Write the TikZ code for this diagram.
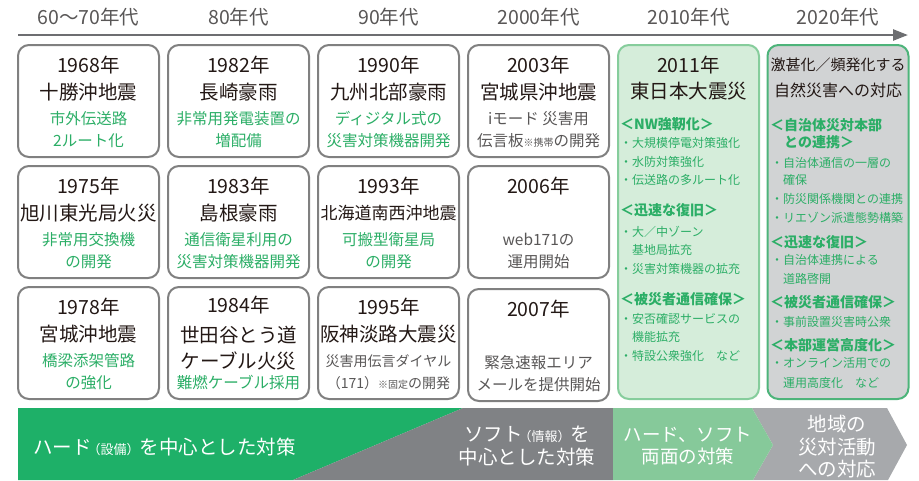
\documentclass[tikz,border=0pt]{standalone}
\usepackage{fontspec}
\setmainfont{Noto Sans CJK JP}
\usetikzlibrary{arrows.meta}
\definecolor{hdr}{HTML}{595757}
\definecolor{axisc}{HTML}{6D6E71}
\definecolor{boxgray}{HTML}{808080}
\definecolor{ink}{HTML}{231815}
\definecolor{subgray}{HTML}{595757}
\definecolor{gtxt}{HTML}{2BAE66}
\definecolor{gbox}{HTML}{D5EDDA}
\definecolor{gboxline}{HTML}{86CD9C}
\definecolor{graybox}{HTML}{D1D3D4}
\definecolor{grayboxline}{HTML}{4DB47A}
\definecolor{bandgreen}{HTML}{1EB068}
\definecolor{banddark}{HTML}{808285}
\definecolor{bandlight}{HTML}{86C99A}
\definecolor{bandgray}{HTML}{A7A9AC}
\newcommand\mkcell[8]{%
  \node[cellbox] (#1) at (#2,#3) {};
  \node[bigtxt] (#1y) at (#2,#3-36) {#4};
  \node[bigtxt] (#1t) at (#2,#3-9) {#5};
  \node[subtxt,text=#8] (#1s) at (#2,#3+18) {#6};
  \node[subtxt,text=#8] (#1u) at (#2,#3+40) {#7};
}
\newcommand\smallfs{\fontsize{10}{12}\selectfont}
\newcommand\parsmall[1]{{\fontsize{13}{14}\selectfont\kern-4pt（#1）}}
\begin{document}
\begin{tikzpicture}[x=1pt,y=-1pt,
  cellbox/.style={draw=boxgray, line width=2pt, rounded corners=11pt, fill=white,
    minimum width=141pt, minimum height=112pt, inner sep=0pt, outer sep=0pt},
  bigbox/.style={line width=2pt, rounded corners=11pt,
    minimum width=141pt, minimum height=354pt, inner sep=0pt, outer sep=0pt},
  bigtxt/.style={text=ink, font=\fontsize{19.5}{22}\selectfont, inner sep=0pt},
  subtxt/.style={font=\fontsize{15.5}{18}\selectfont, inner sep=0pt},
  hdrtxt/.style={text=hdr, font=\fontsize{19.5}{22}\selectfont, inner sep=0pt},
  hd/.style={text=gtxt, font=\fontsize{14}{16}\selectfont\bfseries, inner sep=0pt, anchor=west},
  bl/.style={text=gtxt, font=\fontsize{12}{14}\selectfont, inner sep=0pt, anchor=west},
  bandtxt/.style={text=white, font=\fontsize{19.5}{22.5}\selectfont, inner sep=0pt, align=center},
]
\useasboundingbox (0,0) rectangle (919,480);
\fill[white] (0,0) rectangle (919,480);

% header
\node[hdrtxt] (h1) at (88.5,17) {60～70年代};
\node[hdrtxt] (h2) at (238.5,17) {80年代};
\node[hdrtxt] (h3) at (388.5,17) {90年代};
\node[hdrtxt] (h4) at (538.5,17) {2000年代};
\node[hdrtxt] (h5) at (688.5,17) {2010年代};
\node[hdrtxt] (h6) at (838,17) {2020年代};
\coordinate (ax0) at (18,35);
\coordinate (ax1) at (908,35);
\draw[axisc, line width=2.5pt, -{Triangle[length=15pt,width=11pt]}] (ax0) -- (ax1);

% column 1
\mkcell{c11}{88.5}{101}{1968年}{十勝沖地震}{市外伝送路}{2ルート化}{gtxt}
\mkcell{c12}{88.5}{222}{1975年}{旭川東光局火災}{非常用交換機}{の開発}{gtxt}
\mkcell{c13}{88.5}{343}{1978年}{宮城沖地震}{橋梁添架管路}{の強化}{gtxt}
% column 2
\mkcell{c21}{238.5}{101}{1982年}{長崎豪雨}{非常用発電装置の}{増配備}{gtxt}
\mkcell{c22}{238.5}{222}{1983年}{島根豪雨}{通信衛星利用の}{災害対策機器開発}{gtxt}
\node[cellbox] (c23) at (238.5,343) {};
\node[bigtxt] (c23y) at (238.5,305) {1984年};
\node[bigtxt] (c23t) at (238.5,335) {世田谷とう道};
\node[bigtxt] (c23v) at (238.5,361) {ケーブル火災};
\node[subtxt,text=gtxt] (c23s) at (238.5,383) {難燃ケーブル採用};
% column 3
\mkcell{c31}{388.5}{101}{1990年}{九州北部豪雨}{ディジタル式の}{災害対策機器開発}{gtxt}
\mkcell{c32}{388.5}{222}{1993年}{{\fontsize{17}{20}\selectfont 北海道南西沖地震}}{可搬型衛星局}{の開発}{gtxt}
\mkcell{c33}{388.5}{343}{1995年}{阪神淡路大震災}{{\fontsize{14}{16}\selectfont 災害用伝言ダイヤル}}{{\fontsize{14}{16}\selectfont （171）{\smallfs ※固定}の開発}}{subgray}
% column 4
\mkcell{c41}{538.5}{101}{2003年}{宮城県沖地震}{iモード 災害用}{伝言板{\smallfs ※携帯}の開発}{subgray}
\mkcell{c42}{538.5}{222}{2006年}{}{web171の}{運用開始}{subgray}
\mkcell{c43}{538.5}{345}{2007年}{}{緊急速報エリア}{メールを提供開始}{subgray}

% column 5 (2011)
\node[bigbox, fill=gbox, draw=gboxline] (c5) at (688.5,222) {};
\node[bigtxt] (c5y) at (688.5,65) {2011年};
\node[bigtxt] (c5t) at (688.5,91) {東日本大震災};
\node[hd] (c5h1) at (620,124) {＜NW強靭化＞};
\node[bl] (c5a) at (620,143) {・大規模停電対策強化};
\node[bl] (c5b) at (620,162) {・水防対策強化};
\node[bl] (c5c) at (620,180) {・伝送路の多ルート化};
\node[hd] (c5h2) at (620,210) {＜迅速な復旧＞};
\node[bl] (c5d) at (620,232) {・大／中ゾーン};
\node[bl] (c5e) at (632,250) {基地局拡充};
\node[bl] (c5f) at (620,269) {・災害対策機器の拡充};
\node[hd] (c5h3) at (620,299) {＜被災者通信確保＞};
\node[bl] (c5g) at (620,319) {・安否確認サービスの};
\node[bl] (c5i) at (632,337) {機能拡充};
\node[bl] (c5j) at (620,356) {・特設公衆強化　など};

% column 6 (2020)
\node[bigbox, fill=graybox, draw=grayboxline] (c6) at (838,222) {};
\node[bigtxt, font=\fontsize{15}{18}\selectfont] (c6t1) at (838,65) {激甚化／頻発化する};
\node[bigtxt, font=\fontsize{16}{18}\selectfont] (c6t2) at (838,90) {自然災害への対応};
\node[hd] (c6h1) at (770,125) {＜自治体災対本部};
\node[hd] (c6h1b) at (784,142) {との連携＞};
\node[bl] (c6a) at (771,163) {・自治体通信の一層の};
\node[bl] (c6b) at (783,180) {確保};
\node[bl] (c6c) at (771,199) {・防災関係機関との連携};
\node[bl] (c6d) at (771,218) {・リエゾン派遣態勢構築};
\node[hd] (c6h2) at (770,242) {＜迅速な復旧＞};
\node[bl] (c6e) at (771,260) {・自治体連携による};
\node[bl] (c6f) at (783,279) {道路啓開};
\node[hd] (c6h3) at (770,302) {＜被災者通信確保＞};
\node[bl] (c6g) at (771,322) {・事前設置災害時公衆};
\node[hd] (c6h4) at (770,345) {＜本部運営高度化＞};
\node[bl] (c6i) at (771,363) {・オンライン活用での};
\node[bl] (c6j) at (783,383) {運用高度化　など};

% bottom band
\fill[bandgreen] (18,408) -- (463,408) -- (293,480) -- (18,480) -- cycle;
\fill[banddark] (463,408) -- (613,408) -- (613,480) -- (293,480) -- cycle;
\fill[bandgray] (752,408) -- (887,408) -- (907,445) -- (888,480) -- (753,480) -- (773,445) -- cycle;
\fill[bandlight] (613,408) -- (752,408) -- (773,445) -- (753,480) -- (613,480) -- cycle;
\node[bandtxt, anchor=west] (b1) at (33,447) {ハード\parsmall{設備}を中心とした対策};
\node[bandtxt] (b2) at (527,446) {ソフト\parsmall{情報}を\\中心とした対策};
\node[bandtxt, font=\fontsize{18.5}{22.5}\selectfont] (b3) at (688,446) {ハード、ソフト\\両面の対策};
\node[bandtxt] (b4) at (837,447) {地域の\\災対活動\\への対応};
\end{tikzpicture}
\end{document}
